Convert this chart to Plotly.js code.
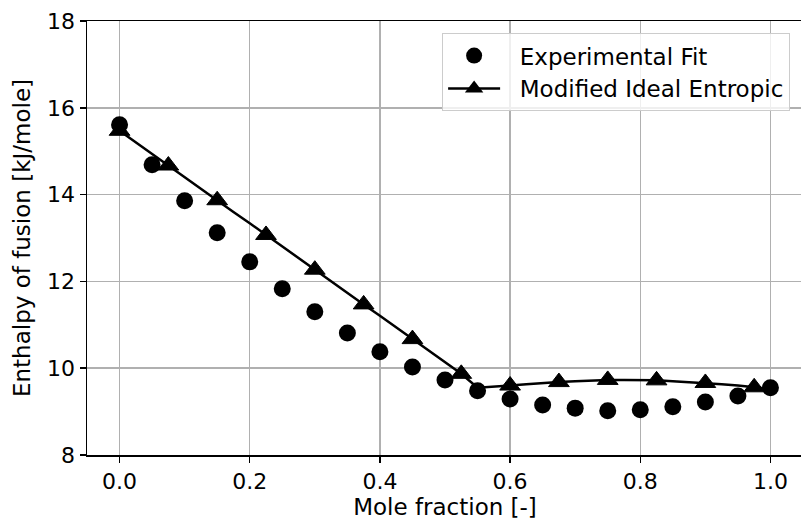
<!DOCTYPE html>
<html>
<head>
<meta charset="utf-8">
<script src="https://cdn.plot.ly/plotly-3.0.1.min.js"></script>
<style>
  html, body { margin: 0; padding: 0; overflow: hidden; background: #fff; }
  #chart { width: 803px; height: 521px; }
</style>
</head>
<body>
<div id="chart"></div>
<script>
// Experimental fit points
const expX = [0.0, 0.05, 0.1, 0.15, 0.2, 0.25, 0.3, 0.35, 0.4, 0.45, 0.5,
              0.55, 0.6, 0.65, 0.7, 0.75, 0.8, 0.85, 0.9, 0.95, 1.0];
const expY = [15.61, 14.69, 13.86, 13.12, 12.45, 11.83, 11.30, 10.81, 10.38, 10.03, 9.73,
              9.48, 9.29, 9.15, 9.08, 9.02, 9.04, 9.11, 9.22, 9.36, 9.55];

// Modified ideal entropic curve
const modX = [0.0, 0.025, 0.05, 0.075, 0.1, 0.125, 0.15, 0.175, 0.2, 0.225, 0.25,
              0.275, 0.3, 0.325, 0.35, 0.375, 0.4, 0.425, 0.45, 0.475, 0.5,
              0.525, 0.55, 0.575, 0.6, 0.625, 0.65, 0.675, 0.7, 0.725, 0.75,
              0.775, 0.8, 0.825, 0.85, 0.875, 0.9, 0.925, 0.95, 0.975, 1.0];
const modY = [15.47, 15.20, 14.94, 14.67, 14.40, 14.14, 13.87, 13.60, 13.34, 13.07, 12.81,
              12.54, 12.27, 12.01, 11.74, 11.47, 11.21, 10.94, 10.67, 10.41, 10.14,
              9.87, 9.55, 9.57, 9.60, 9.63, 9.66, 9.68, 9.70, 9.72, 9.73,
              9.73, 9.73, 9.72, 9.70, 9.68, 9.66, 9.63, 9.60, 9.56, 9.52];

// Triangle markers (every third point of the curve)
const markX = [0.0, 0.075, 0.15, 0.225, 0.3, 0.375, 0.45, 0.525, 0.6, 0.675, 0.75, 0.825, 0.9, 0.975];
const markY = [15.47, 14.67, 13.87, 13.07, 12.27, 11.47, 10.67, 9.87, 9.60, 9.68, 9.73, 9.72, 9.66, 9.56];

const seriesNames = ['Experimental Fit', 'Modified Ideal Entropic'];
const xTicks = [0.0, 0.2, 0.4, 0.6, 0.8, 1.0];
const xTickText = ['0.0', '0.2', '0.4', '0.6', '0.8', '1.0'];
const yTicks = [8, 10, 12, 14, 16, 18];

const FONT = 'DejaVu Sans, Verdana, sans-serif';
const TICK_FS = 22;
const TITLE_FS = 23;
const PAD = '\u00a0\u00a0';

const traces = [
  {
    x: expX, y: expY, type: 'scatter', mode: 'markers',
    name: PAD + seriesNames[0],
    marker: { symbol: 'circle', size: 17, color: '#000' }
  },
  {
    x: modX, y: modY, type: 'scatter', mode: 'lines',
    name: seriesNames[1], showlegend: false,
    line: { color: '#000', width: 2.5 }, hoverinfo: 'skip'
  },
  {
    x: markX, y: markY, type: 'scatter', mode: 'markers',
    name: seriesNames[1], showlegend: false,
    marker: { symbol: 'triangle-up', size: 18, color: '#000', line: { color: '#000', width: 1 } }
  },
  {
    x: [null], y: [null], type: 'scatter', mode: 'lines+markers',
    name: PAD + seriesNames[1],
    line: { color: '#000', width: 2.5 },
    marker: { symbol: 'triangle-up', size: 18, color: '#000' }
  }
];

const layout = {
  width: 803, height: 521,
  margin: { l: 87, r: 0, t: 21, b: 66 },
  paper_bgcolor: '#fff', plot_bgcolor: '#fff',
  font: { family: FONT, size: TICK_FS, color: '#000' },
  showlegend: true,
  xaxis: {
    range: [-0.05, 1.05],
    tickvals: xTicks, ticktext: xTickText,
    ticks: 'outside', ticklen: 6, tickwidth: 1.5, tickcolor: '#000',
    showline: true, linecolor: '#000', linewidth: 1.5, mirror: true,
    showgrid: true, gridcolor: '#b0b0b0', gridwidth: 1.5,
    zeroline: false,
    tickfont: { family: FONT, size: TICK_FS, color: '#000' },
    title: { text: 'Mole fraction [-]', font: { family: FONT, size: TITLE_FS, color: '#000' }, standoff: 5 }
  },
  yaxis: {
    range: [8, 18],
    tickvals: yTicks,
    ticks: 'outside', ticklen: 6, tickwidth: 1.5, tickcolor: '#000',
    showline: true, linecolor: '#000', linewidth: 1.5, mirror: true,
    showgrid: true, gridcolor: '#b0b0b0', gridwidth: 1.5,
    zeroline: false,
    tickfont: { family: FONT, size: TICK_FS, color: '#000' },
    title: { text: 'Enthalpy of fusion [kJ/mole]', font: { family: FONT, size: TITLE_FS, color: '#000' }, standoff: 10 }
  },
  legend: {
    x: 0.982, xanchor: 'right', xref: 'paper',
    y: 0.972, yanchor: 'top', yref: 'paper',
    bgcolor: 'rgba(255,255,255,0.8)', bordercolor: '#cccccc', borderwidth: 1,
    font: { family: FONT, size: TITLE_FS, color: '#000' },
    itemwidth: 52, tracegroupgap: 0
  }
};

Plotly.newPlot('chart', traces, layout, { staticPlot: true, displayModeBar: false });
</script>
</body>
</html>
